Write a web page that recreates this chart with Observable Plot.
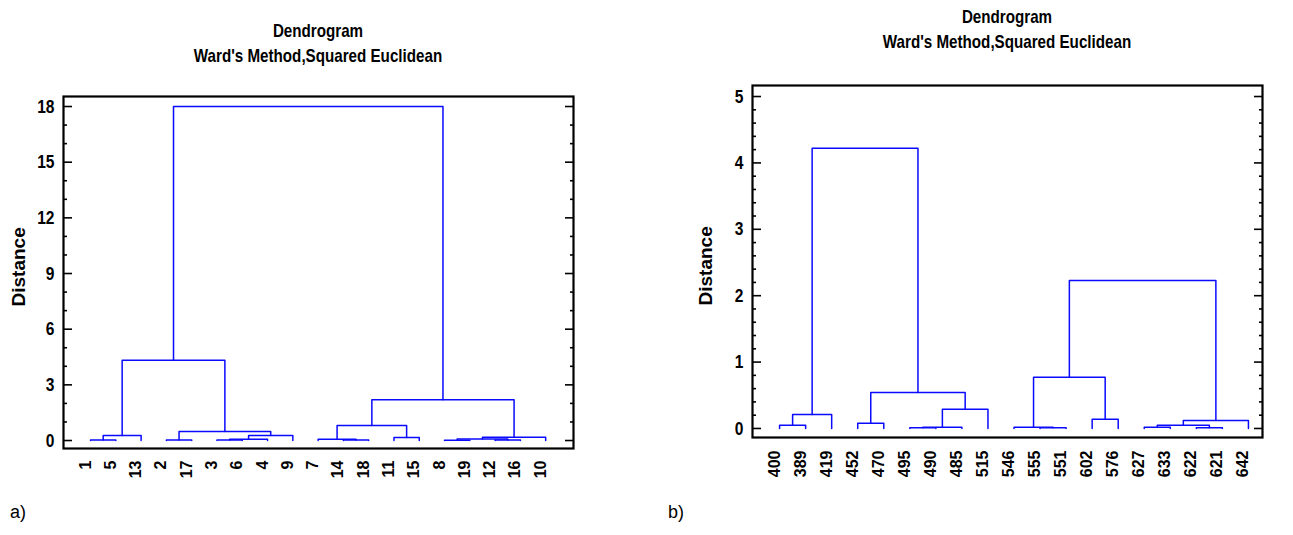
<!DOCTYPE html>
<html><head><meta charset="utf-8">
<script src="https://cdn.jsdelivr.net/npm/d3@7"></script>
<script src="https://cdn.jsdelivr.net/npm/@observablehq/plot@0.6"></script>
<style>
body{margin:0;background:#fff;}
#wrap{position:relative;width:1293px;height:535px;overflow:hidden;font-family:"Liberation Sans",Arial,sans-serif;}
.t{position:absolute;font-weight:bold;font-size:18.5px;line-height:18.5px;text-align:center;white-space:nowrap;width:500px;transform:scaleX(0.82);transform-origin:50% 50%;}
.box{position:absolute;top:0;}
.lab{position:absolute;font-size:18px;}
#wrap svg text{font-weight:bold;}
#wrap svg g[aria-label="y-axis tick label"] text{font-size:19px;}
#wrap svg g[aria-label="leaf-label"] text{font-size:16px;}
#wrap svg g[aria-label="dist-label"] text{font-size:19px;letter-spacing:1.4px;}
</style></head><body>
<div id="wrap">
  <div class="t" style="left:68px;top:22px;">Dendrogram</div>
  <div class="t" style="left:68px;top:47px;">Ward's Method,Squared Euclidean</div>
  <div class="t" style="left:757px;top:8px;">Dendrogram</div>
  <div class="t" style="left:757px;top:33px;">Ward's Method,Squared Euclidean</div>
  <div id="chartA" class="box" style="left:0px;"></div>
  <div id="chartB" class="box" style="left:640px;"></div>
  <div class="lab" style="left:10px;top:502px;">a)</div>
  <div class="lab" style="left:668px;top:502px;">b)</div>
</div>
<script>
// ---- Chart a data ----
const leavesA = ["1","5","13","2","17","3","6","4","9","7","14","18","11","15","8","19","12","16","10"];
// merges: [child1, child2, distance]; index < 19 = leaf position, >= 19 = earlier merge
const mergesA = [
  [0, 1, 0.03],   // 19
  [19, 2, 0.27],  // 20
  [3, 4, 0.03],   // 21
  [5, 6, 0.03],   // 22
  [22, 7, 0.07],  // 23
  [23, 8, 0.27],  // 24
  [21, 24, 0.49], // 25
  [20, 25, 4.32], // 26
  [10, 11, 0.03], // 27
  [9, 27, 0.07],  // 28
  [12, 13, 0.16], // 29
  [28, 29, 0.81], // 30
  [14, 15, 0.02], // 31
  [16, 17, 0.03], // 32
  [31, 32, 0.08], // 33
  [33, 18, 0.17], // 34
  [30, 34, 2.2],  // 35
  [26, 35, 18.0]  // 36
];
const majorTicksA = [0, 3, 6, 9, 12, 15, 18];
const minorTicksA = [1, 2, 4, 5, 7, 8, 10, 11, 13, 14, 16, 17];

// ---- Chart b data ----
const leavesB = ["400","389","419","452","470","495","490","485","515","546","555","551","602","576","627","633","622","621","642"];
const mergesB = [
  [0, 1, 0.05],   // 19
  [19, 2, 0.21],  // 20
  [3, 4, 0.08],   // 21
  [5, 6, 0.01],   // 22
  [22, 7, 0.02],  // 23
  [23, 8, 0.29],  // 24
  [21, 24, 0.54], // 25
  [20, 25, 4.22], // 26
  [10, 11, 0.01], // 27
  [9, 27, 0.02],  // 28
  [12, 13, 0.14], // 29
  [28, 29, 0.77], // 30
  [14, 15, 0.02], // 31
  [16, 17, 0.01], // 32
  [31, 32, 0.05], // 33
  [33, 18, 0.12], // 34
  [30, 34, 2.23]  // 35
];
const majorTicksB = [0, 1, 2, 3, 4, 5];
const minorTicksB = [0.2,0.4,0.6,0.8,1.2,1.4,1.6,1.8,2.2,2.4,2.6,2.8,3.2,3.4,3.6,3.8,4.2,4.4,4.6,4.8];

function dendroPaths(leaves, merges) {
  const pos = leaves.map((_, i) => i);
  const hgt = leaves.map(() => 0);
  const pts = [];
  merges.forEach(([a, b, h], k) => {
    pts.push({id: k, x: pos[a], y: hgt[a]}, {id: k, x: pos[a], y: h},
             {id: k, x: pos[b], y: h}, {id: k, x: pos[b], y: hgt[b]});
    pos.push((pos[a] + pos[b]) / 2);
    hgt.push(h);
  });
  return pts;
}

// narrow the glyphs horizontally (the original uses a condensed bold face)
function condense(svg, selector, k) {
  svg.querySelectorAll(selector).forEach(t => {
    const tr = t.getAttribute("transform") || "";
    t.setAttribute("transform", `${tr} scale(${k},1)`);
  });
}

const FONT = "'Liberation Sans', Arial, sans-serif";

function dendro(o) {
  const idx = o.leaves.map((_, i) => i);
  const svg = Plot.plot({
    width: o.width, height: o.height,
    marginLeft: o.ml, marginRight: o.mr, marginTop: o.mt, marginBottom: o.mb,
    x: {domain: o.xDomain, axis: null},
    y: {domain: o.yDomain, axis: null},
    style: {fontFamily: FONT, color: "black", background: "transparent", overflow: "visible"},
    marks: [
      Plot.line(dendroPaths(o.leaves, o.merges), {x: "x", y: "y", z: "id", stroke: "#0a0aff", strokeWidth: 1.5}),
      Plot.axisY(o.majors, {anchor: "left", tickSize: -9, tickPadding: 18, strokeWidth: 1.6, fontSize: 19, fontWeight: "bold", tickFormat: d => String(d), label: null}),
      Plot.axisY(o.minors, {anchor: "left", tickSize: -4, strokeWidth: 1.6, tickFormat: () => "", label: null}),
      Plot.axisY(o.majors, {anchor: "right", tickSize: -9, strokeWidth: 1.6, tickFormat: () => "", label: null}),
      Plot.axisY(o.minors, {anchor: "right", tickSize: -4, strokeWidth: 1.6, tickFormat: () => "", label: null}),
      Plot.text(idx, {x: d => d, frameAnchor: "bottom", dy: o.labelDy, rotate: -90, textAnchor: "end",
        text: d => o.leaves[d], fontSize: 16, fontWeight: "bold", ariaLabel: "leaf-label"}),
      Plot.text(["Distance"], {frameAnchor: "left", dx: o.distDx, dy: o.distDy, rotate: -90,
        fontSize: 19, fontWeight: "bold", ariaLabel: "dist-label"}),
      Plot.frame({stroke: "black", strokeWidth: 2.2})
    ]
  });
  condense(svg, 'g[aria-label="y-axis tick label"] text', 0.82);
  condense(svg, 'g[aria-label="leaf-label"] text', 0.82);
  return svg;
}

document.getElementById("chartA").append(dendro({
  leaves: leavesA, merges: mergesA, majors: majorTicksA, minors: minorTicksA,
  width: 620, height: 535, ml: 63, mr: 47, mt: 96, mb: 87,
  xDomain: [-1.07, 19.1], yDomain: [-0.43, 18.54], labelDy: 12, distDx: -45, distDy: 34
}));
document.getElementById("chartB").append(dendro({
  leaves: leavesB, merges: mergesB, majors: majorTicksB, minors: minorTicksB,
  width: 653, height: 535, ml: 112, mr: 31, mt: 85, mb: 98,
  xDomain: [-1.04, 18.54], yDomain: [-0.136, 5.166], labelDy: 13, distDx: -47, distDy: 44
}));
</script>
</body></html>
